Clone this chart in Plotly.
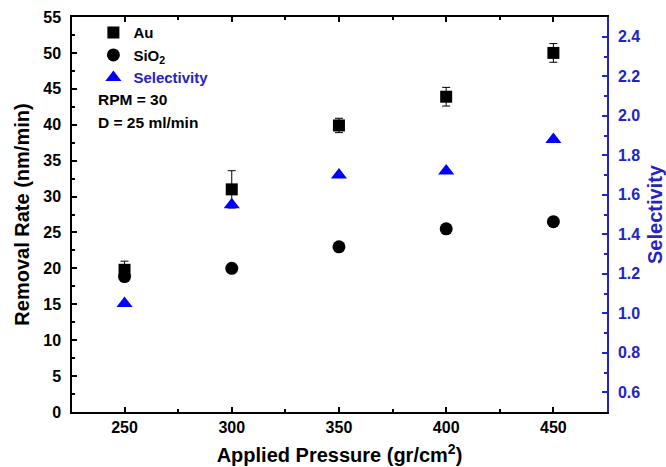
import plotly.graph_objects as go

# Removal rate vs applied pressure, with Au/SiO2 selectivity on a second axis
pressure = [250, 300, 350, 400, 450]
au_rate = [19.8, 31.0, 39.9, 43.9, 50.0]
au_err = [1.2, 2.6, 1.0, 1.3, 1.3]
sio2_rate = [18.85, 20.0, 23.0, 25.5, 26.5]
selectivity = [1.05, 1.55, 1.70, 1.72, 1.88]

FONT = "Liberation Sans, Arial, sans-serif"
BLUE = "#0000ff"
AXBLUE = "#2323c8"

fig = go.Figure()

fig.add_trace(go.Scatter(
    x=pressure, y=au_rate, mode="markers", name="Au",
    marker=dict(symbol="square", size=12, color="black"),
    error_y=dict(type="data", array=au_err, color="black", thickness=1, width=4),
))
fig.add_trace(go.Scatter(
    x=pressure, y=sio2_rate, mode="markers", name="SiO<sub>2</sub>",
    marker=dict(symbol="circle", size=13, color="black"),
))
fig.add_trace(go.Scatter(
    x=pressure, y=selectivity, mode="markers", yaxis="y2",
    name=f"<span style='color:{AXBLUE}'>Selectivity</span>",
    marker=dict(symbol="triangle-up", size=14, color=BLUE),
))

fig.update_layout(
    width=666, height=467,
    margin=dict(l=72, r=59, t=17, b=55, autoexpand=False),
    paper_bgcolor="white", plot_bgcolor="white",
    font=dict(family=FONT, size=16, color="black"),
    showlegend=True,
    legend=dict(
        x=0.04, y=1.002, xanchor="left", yanchor="top",
        xref="paper", yref="paper",
        bgcolor="rgba(0,0,0,0)", borderwidth=0,
        font=dict(family=FONT, size=15, color="black", weight="bold"),
        tracegroupgap=0, itemsizing="trace",
    ),
    xaxis=dict(
        range=[225.5, 475], tick0=250, dtick=50, automargin=False,
        showgrid=False, zeroline=False,
        showline=True, linecolor="black", linewidth=1.5, mirror="ticks",
        ticks="inside", ticklen=5, tickwidth=1.5, tickcolor="black",
        minor=dict(ticks="inside", dtick=25, ticklen=3, tickwidth=1.5, tickcolor="black"),
        tickfont=dict(family=FONT, size=16, color="black", weight="bold"),
        title=dict(text="Applied Pressure (gr/cm<sup>2</sup>)", standoff=13,
                   font=dict(family=FONT, size=20, color="black", weight="bold")),
    ),
    yaxis=dict(
        range=[0, 55], tick0=0, dtick=5, automargin=False,
        showgrid=False, zeroline=False,
        showline=True, linecolor="black", linewidth=1.5,
        ticks="inside", ticklen=5, tickwidth=1.5, tickcolor="black",
        minor=dict(ticks="inside", dtick=2.5, ticklen=3, tickwidth=1.5, tickcolor="black"),
        tickfont=dict(family=FONT, size=16, color="black", weight="bold"),
        ticklabelstandoff=6,
        title=dict(text="Removal Rate (nm/min)", standoff=8,
                   font=dict(family=FONT, size=20, color="black", weight="bold")),
    ),
    yaxis2=dict(
        overlaying="y", side="right", anchor="x", automargin=False,
        range=[0.5, 2.5], tick0=0.6, dtick=0.2, tickformat=".1f",
        showgrid=False, zeroline=False,
        showline=True, linecolor=AXBLUE, linewidth=1.5,
        ticks="inside", ticklen=5, tickwidth=1.5, tickcolor=AXBLUE,
        minor=dict(ticks="inside", dtick=0.1, ticklen=3, tickwidth=1.5, tickcolor=AXBLUE),
        tickfont=dict(family=FONT, size=16, color=AXBLUE, weight="bold"),
        ticklabelstandoff=6,
        title=dict(text="Selectivity", standoff=12,
                   font=dict(family=FONT, size=20, color=AXBLUE, weight="bold")),
    ),
    annotations=[
        dict(text="RPM = 30", xref="paper", yref="paper", x=0.045, y=0.79,
             xanchor="left", yanchor="middle", showarrow=False,
             font=dict(family=FONT, size=15.5, color="black", weight="bold")),
        dict(text="D = 25 ml/min", xref="paper", yref="paper", x=0.045, y=0.733,
             xanchor="left", yanchor="middle", showarrow=False,
             font=dict(family=FONT, size=15.5, color="black", weight="bold")),
    ],
)

fig.write_html("out.html")
